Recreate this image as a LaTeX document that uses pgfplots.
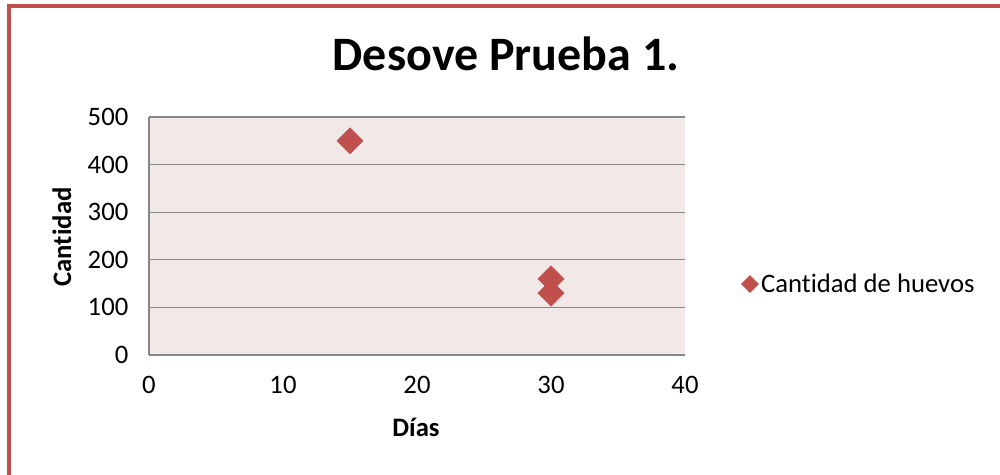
\documentclass[border=0pt]{standalone}
\usepackage{pgfplots}
\pgfplotsset{compat=1.18}
\usepackage{fontspec}
\setmainfont{Carlito}[Ligatures=NoCommon]
\newfontfamily\serifp{Liberation Serif}
\definecolor{frame}{RGB}{192,80,77}
\definecolor{bg}{RGB}{242,232,232}
\definecolor{gridc}{RGB}{134,134,134}
\begin{document}
\begin{tikzpicture}[x=0.75pt,y=0.75pt]
\useasboundingbox (0,0) rectangle (1000,475);
\fill[white] (0,0) rectangle (1000,475);
% fragment of text above
\node[anchor=base,inner sep=0,font=\serifp\fontsize{20}{24}\selectfont] at (351,475+9) {p};
% chart frame
\draw[frame,line width=2.6pt] (9,-20) -- (9,475-6) -- (1020,475-6);
% title
\node[anchor=base,inner sep=0,font=\bfseries\fontsize{36}{42}\selectfont] at (506,475-71) {Desove Prueba 1.};
% axis labels
\node[anchor=base,inner sep=0,font=\bfseries\fontsize{20}{24}\selectfont] at (416,475-437) {Días};
\node[anchor=base,inner sep=0,rotate=90,font=\bfseries\fontsize{20}{24}\selectfont] at (71,475-237) {Cantidad};
\begin{axis}[
  at={(111.75pt,90pt)}, anchor=south west,
  scale only axis, width=402pt, height=178.5pt,
  xmin=0, xmax=40, ymin=0, ymax=500,
  xtick={0,10,20,30,40}, ytick={0,100,200,300,400,500},
  axis x line=bottom, axis y line=left,
  axis line style={-, draw=gridc, line width=1pt},
  major tick length=0pt,
  ymajorgrids, grid style={draw=gridc, line width=1pt},
  axis background/.style={fill=bg},
  /pgf/number format/assume math mode=true,
  tick label style={font=\fontsize{20}{24}\selectfont},
  yticklabel style={xshift=-12pt},
  xticklabel style={yshift=-12pt},
  legend style={at={(1.105,0.298)}, anchor=west, draw=none, fill=none,
    font=\fontsize{20}{24}\selectfont, inner sep=0pt},
  legend cell align=left,
  legend image code/.code={\draw[#1, mark size=4.5pt] plot coordinates {(0pt,0pt)};},
  clip=false,
]
\addplot[only marks, mark=square*, mark size=6.9pt,
  mark options={rotate=45, fill=frame, draw=frame}] coordinates {
  (15,450) (30,160) (30,130)
};
\addlegendentry{Cantidad de huevos}
\end{axis}
\end{tikzpicture}
\end{document}
